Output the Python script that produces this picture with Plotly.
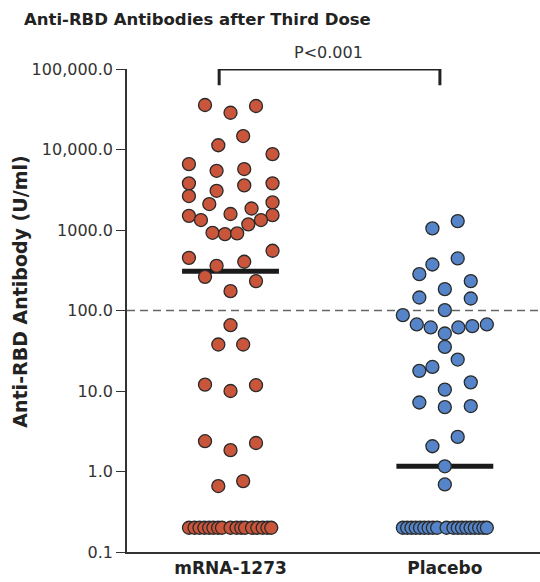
import plotly.graph_objects as go

# ---------------- data ----------------
categories = ["mRNA-1273", "Placebo"]
tick_vals = [0.1, 1, 10, 100, 1000, 10000, 100000]
tick_text = ["0.1", "1.0", "10.0", "100.0", "1000.0", "10,000.0", "100,000.0"]

mrna_values = [35700, 28600, 34700, 14700, 11300, 8770, 6590, 5440, 5720, 3800,
               3070, 3580, 3800, 2640, 2100, 1850, 2200, 1500, 1330, 1580,
               1530, 1330, 1175, 923, 889, 907, 451, 552, 359, 403,
               262, 232, 174, 65.7, 37.8, 37.8, 12.0, 10.0, 11.8, 2.38,
               1.84, 2.26, 0.66, 0.76]
mrna_jitter = [-0.119, 0.0, 0.119, 0.059, -0.057, 0.196, -0.194, -0.065, 0.064, -0.194,
               -0.065, 0.064, 0.196, -0.194, -0.099, 0.098, 0.196, -0.194, -0.138, 0.0,
               0.196, 0.142, 0.083, -0.084, -0.026, 0.031, -0.194, 0.196, -0.065, 0.064,
               -0.119, 0.119, 0.0, 0.0, -0.057, 0.059, -0.119, 0.0, 0.119, -0.119,
               0.0, 0.119, -0.057, 0.059]
mrna_floor_value = 0.2
mrna_floor_jitter = [-0.194, -0.168, -0.145, -0.122, -0.100, -0.080, -0.058, -0.040,
                     0.0, 0.028, 0.050, 0.068, 0.100, 0.125, 0.150, 0.172, 0.190]

placebo_values = [1047, 1290, 373, 443, 283, 232, 184, 145, 141, 87.5,
                  101, 67.1, 61.6, 51.8, 61.6, 63.9, 67.1, 35.3, 24.6, 17.8,
                  19.9, 12.8, 10.4, 7.2, 6.3, 6.5, 2.69, 2.06, 1.16, 0.69]
placebo_jitter = [-0.058, 0.060, -0.058, 0.060, -0.119, 0.121, 0.0, -0.119, 0.121, -0.196,
                  0.0, -0.131, -0.066, 0.0, 0.063, 0.128, 0.196, 0.0, 0.060, -0.119,
                  -0.058, 0.121, 0.0, -0.119, 0.0, 0.121, 0.060, -0.058, 0.0, 0.0]
placebo_floor_value = 0.2
placebo_floor_jitter = [-0.196, -0.176, -0.156, -0.136, -0.116, -0.096, -0.076, -0.056,
                        -0.036, 0.008, 0.040, 0.060, 0.080, 0.100, 0.120, 0.140,
                        0.160, 0.180, 0.196]

medians = [308, 1.16]
median_half_width = 0.226
threshold = 100
p_text = "P<0.001"

# ---------------- figure ----------------
FONT = "DejaVu Sans"
RED = "#C9553B"
BLUE = "#5585C8"
EDGE = "#2a2a2a"
TXT = "#333333"

fig = go.Figure()

# median bars
for i, m in enumerate(medians):
    fig.add_trace(go.Scatter(
        x=[i - median_half_width, i + median_half_width], y=[m, m],
        mode="lines", line=dict(color="#1a1a1a", width=5),
        hoverinfo="skip", showlegend=False))

def add_points(center, values, jitter, fvalue, fjitter, color):
    xs = [center + j for j in jitter] + [center + j for j in fjitter]
    ys = list(values) + [fvalue] * len(fjitter)
    fig.add_trace(go.Scatter(
        x=xs, y=ys, mode="markers",
        marker=dict(size=13, color=color, line=dict(color=EDGE, width=1.3)),
        showlegend=False, cliponaxis=False))

add_points(0, mrna_values, mrna_jitter, mrna_floor_value, mrna_floor_jitter, RED)
add_points(1, placebo_values, placebo_jitter, placebo_floor_value, placebo_floor_jitter, BLUE)

# significance bracket
fig.add_trace(go.Scatter(
    x=[-0.053, -0.053, 0.977, 0.977], y=[63000, 100000, 100000, 63000],
    mode="lines", line=dict(color="#222222", width=3),
    hoverinfo="skip", showlegend=False, cliponaxis=False))

fig.add_shape(type="line", xref="paper", x0=0, x1=1, yref="y",
              y0=threshold, y1=threshold, layer="below",
              line=dict(color="#666666", width=1.3, dash="8px,5px"))

fig.add_annotation(text=p_text, x=0.459, xref="x", y=1.035, yref="paper",
                   showarrow=False, xanchor="center", yanchor="middle",
                   font=dict(family=FONT, size=16, color=TXT))

fig.add_annotation(text="<b>Anti-RBD Antibody (U/ml)</b>", textangle=-90,
                   x=-0.259, xref="paper", y=0.539, yref="paper",
                   showarrow=False, xanchor="center", yanchor="middle",
                   font=dict(family=FONT, size=19, color="#222222"))

fig.update_layout(
    width=540, height=582,
    margin=dict(l=127, r=0, t=69, b=30),
    plot_bgcolor="white", paper_bgcolor="white",
    title=dict(text="<b>Anti-RBD Antibodies after Third Dose</b>",
               x=24 / 540, xanchor="left", xref="container",
               y=1 - 19 / 582, yanchor="middle", yref="container",
               font=dict(family=FONT, size=16.5, color="#222222")),
    font=dict(family=FONT, color=TXT),
    xaxis=dict(range=[-0.483, 1.444], tickvals=[0, 1],
               ticktext=["<b>%s</b>" % c for c in categories],
               tickfont=dict(family=FONT, size=17, color="#222222"),
               showline=True, linecolor="#333333", linewidth=1.5,
               ticks="", showgrid=False, zeroline=False, fixedrange=True),
    yaxis=dict(type="log", range=[-1, 5], tickvals=tick_vals, ticktext=tick_text,
               tickfont=dict(family=FONT, size=16, color=TXT),
               ticks="outside", ticklen=9, tickwidth=1.3, tickcolor="#333333",
               showline=True, linecolor="#333333", linewidth=1.5,
               showgrid=False, zeroline=False, fixedrange=True),
)

fig.write_html("out.html")
